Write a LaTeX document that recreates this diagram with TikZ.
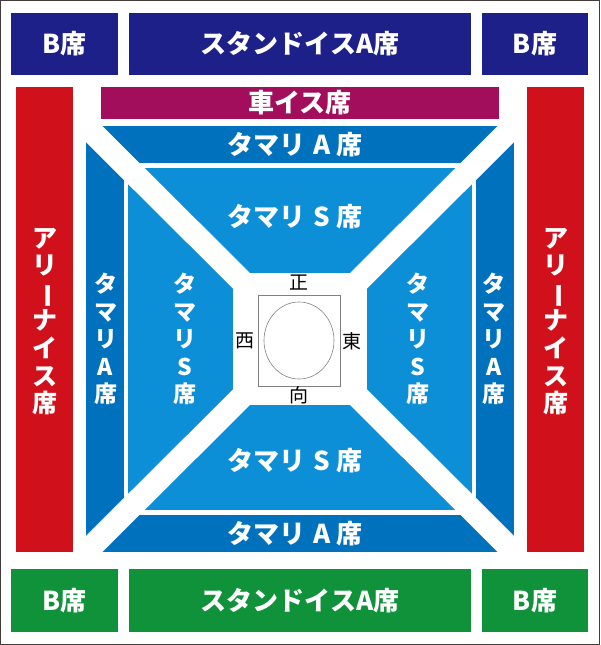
\documentclass[tikz,border=0pt]{standalone}
\usepackage{fontspec}
\setmainfont{Noto Sans CJK JP}
\usetikzlibrary{positioning}

\definecolor{navyseat}{RGB}{29,32,136}
\definecolor{greenseat}{RGB}{16,146,58}
\definecolor{redseat}{RGB}{208,17,28}
\definecolor{wheelseat}{RGB}{163,14,92}
\definecolor{tamariA}{RGB}{0,113,188}
\definecolor{tamariS}{RGB}{12,143,214}
\definecolor{framegray}{RGB}{70,60,60}

\tikzset{%
  seatbox/.style={fill=#1, text=white, inner sep=0pt,
    font=\bfseries\fontsize{26}{28}\selectfont},
  seatlabel/.style={text=white, inner sep=0pt, align=center,
    font=\bfseries\fontsize{23}{27.6}\selectfont},
  rowlabel/.style={text=white, inner sep=0pt,
    font=\bfseries\fontsize{26}{28}\selectfont},
  arenalabel/.style={text=white, inner sep=0pt, align=center,
    font=\bfseries\fontsize{25}{27.6}\selectfont},
  compass/.style={text=black, inner sep=0pt,
    font=\fontsize{19}{19}\selectfont}
}

\newcommand{\tate}{\rotatebox[origin=c]{-90}{ー}}
\newcommand{\tamari}[1]{タマリ\hspace{8pt}#1\hspace{6pt}席}

\begin{document}
\begin{tikzpicture}[x=1pt,y=-1pt]
  \useasboundingbox (0,0) rectangle (600,645);
  \draw[line width=1pt, framegray] (0.5,0.5) rectangle (599.5,644.5);

  % top and bottom rows
  \node[seatbox=navyseat, minimum width=107pt, minimum height=62pt] (topBL) at (64.5,44) {B席};
  \node[seatbox=navyseat, minimum width=342pt, minimum height=62pt] (topStand) at (300,44) {スタンドイスA席};
  \node[seatbox=navyseat, minimum width=106pt, minimum height=62pt] (topBR) at (535,44) {B席};
  \node[seatbox=greenseat, minimum width=107pt, minimum height=63pt] (botBL) at (64.5,600.5) {B席};
  \node[seatbox=greenseat, minimum width=342pt, minimum height=63pt] (botStand) at (300,600.5) {スタンドイスA席};
  \node[seatbox=greenseat, minimum width=106pt, minimum height=63pt] (botBR) at (535,600.5) {B席};

  % arena seats
  \node[fill=redseat, minimum width=57pt, minimum height=465pt] (arenaL) at (44.5,319.5) {};
  \node[fill=redseat, minimum width=57pt, minimum height=465pt] (arenaR) at (555.5,319.5) {};
  \node[arenalabel] (arenaLtext) at (44.5,321.5) {ア\\リ\\\tate\\ナ\\イ\\ス\\席};
  \node[arenalabel] (arenaRtext) at (555.5,321.5) {ア\\リ\\\tate\\ナ\\イ\\ス\\席};

  % wheelchair seats
  \node[seatbox=wheelseat, minimum width=398pt, minimum height=32pt,
    font=\bfseries\fontsize{26}{28}\selectfont] (wheel) at (300,103) {車イス席};

  % tamari seats
  \fill[tamariA] (86,126) rectangle (514,552);
  \draw[white, line width=4.5pt] (126,165.5) rectangle (474,512.5);
  \fill[tamariS] (128,168) rectangle (472,510);
  \foreach \cx/\cy in {86/126, 514/126, 86/552, 514/552}
    \draw[white, line width=23pt] (\cx,\cy) -- (300,339);
  \fill[white] (233,273) rectangle (367,405);

  % dohyo
  \draw[gray, line width=0.6pt] (258,295) rectangle (340,386);
  \draw[gray, line width=0.6pt] (299,340.5) ellipse [x radius=35, y radius=38.5];
  \node[compass] (north) at (299,283) {正};
  \node[compass] (south) at (299,395) {向};
  \node[compass] (west) at (245,341) {西};
  \node[compass] (east) at (352,341) {東};

  \node[rowlabel] (topA) at (295,145) {\tamari{A}};
  \node[rowlabel] (topS) at (295,216.5) {\tamari{S}};
  \node[rowlabel] (botS) at (295,460.5) {\tamari{S}};
  \node[rowlabel] (botA) at (295,533.5) {\tamari{A}};
  \node[seatlabel] (leftA) at (105.5,339) {タ\\マ\\リ\\A\\席};
  \node[seatlabel] (leftS) at (185,339) {タ\\マ\\リ\\S\\席};
  \node[seatlabel] (rightS) at (418,339) {タ\\マ\\リ\\S\\席};
  \node[seatlabel] (rightA) at (494,339) {タ\\マ\\リ\\A\\席};
\end{tikzpicture}
\end{document}
